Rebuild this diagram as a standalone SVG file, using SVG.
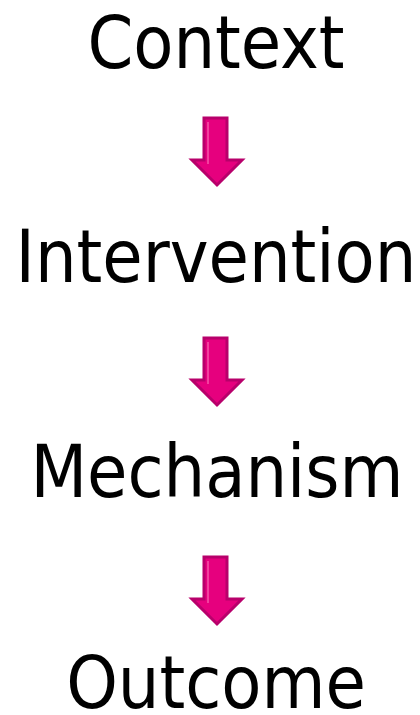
<svg xmlns="http://www.w3.org/2000/svg" width="420" height="715" viewBox="0 0 420 715">
<style>
.lbl{font-family:"DejaVu Sans Condensed","DejaVu Sans",sans-serif;font-stretch:condensed;font-size:73px;fill:#000;text-anchor:middle}
.arr{fill:#e6007e;stroke:#b8006b;stroke-width:3;stroke-linejoin:miter}
.hl{fill:none;stroke:#f2409e;stroke-width:2}
</style>
<defs>
<g id="arrow">
<polygon class="arr" points="-12,0 11,0 11,42 26,42 1,67 -24,42 -12,42"/>
<polyline class="hl" points="-8,4 -8,46"/>
</g>
</defs>
<rect width="420" height="715" fill="#fff"/>
<g id="context"><text class="lbl" x="216" y="68">Context</text></g>
<g id="intervention"><text class="lbl" x="216" y="282">Intervention</text></g>
<g id="mechanism"><text class="lbl" x="217" y="497">Mechanism</text></g>
<g id="outcome"><text class="lbl" x="216" y="708">Outcome</text></g>
<g id="connectors">
<use href="#arrow" x="216" y="118"/>
<use href="#arrow" x="216" y="338"/>
<use href="#arrow" x="216" y="557"/>
</g>
</svg>
